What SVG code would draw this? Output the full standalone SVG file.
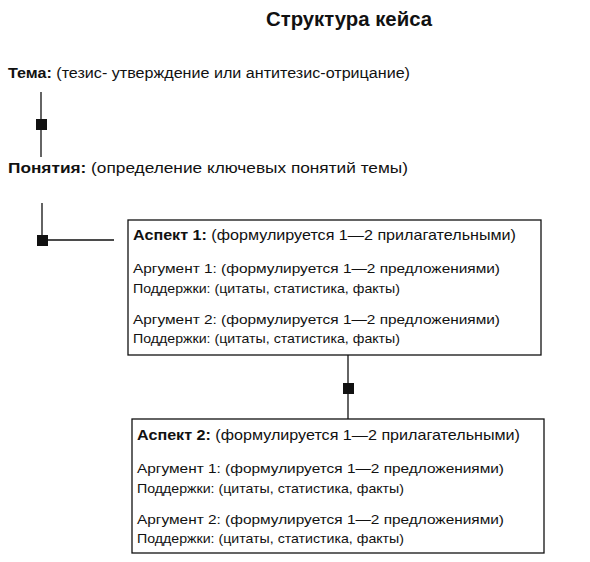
<svg xmlns="http://www.w3.org/2000/svg" width="590" height="562" viewBox="0 0 590 562">
<style>
text{font-family:"Liberation Sans","DejaVu Sans",sans-serif;fill:#111;}
.t{font-size:20px;font-weight:bold;}
.l{font-size:14px;}
.h{font-size:15px;}
.a{font-size:13.5px;}
.b{font-weight:bold;}
.box{fill:#fff;stroke:#111;stroke-width:1.3;}
.ln{stroke:#111;stroke-width:1.3;fill:none;}
.sq{fill:#111;}
</style>
<rect width="590" height="562" fill="#fff"/>
<g id="title"><text class="t" x="266" y="26" textLength="166" lengthAdjust="spacingAndGlyphs">Структура кейса</text></g>
<g id="tema"><text class="l" x="8" y="78" textLength="402" lengthAdjust="spacingAndGlyphs"><tspan class="b">Тема:</tspan> (тезис- утверждение или антитезис-отрицание)</text></g>
<g id="ponyatiya"><text class="l" x="8" y="173" textLength="400" lengthAdjust="spacingAndGlyphs"><tspan class="b">Понятия:</tspan> (определение ключевых понятий темы)</text></g>
<g id="aspect1">
<rect class="box" x="128" y="220" width="413" height="135"/>
<text class="h" x="133" y="240" textLength="383" lengthAdjust="spacingAndGlyphs"><tspan class="b">Аспект 1:</tspan> (формулируется 1—2 прилагательными)</text>
<text class="a" x="133" y="273" textLength="367" lengthAdjust="spacingAndGlyphs">Аргумент 1: (формулируется 1—2 предложениями)</text>
<text class="a" x="133" y="293" textLength="267" lengthAdjust="spacingAndGlyphs">Поддержки: (цитаты, статистика, факты)</text>
<text class="a" x="133" y="324" textLength="367" lengthAdjust="spacingAndGlyphs">Аргумент 2: (формулируется 1—2 предложениями)</text>
<text class="a" x="133" y="343" textLength="267" lengthAdjust="spacingAndGlyphs">Поддержки: (цитаты, статистика, факты)</text>
</g>
<g id="aspect2">
<rect class="box" x="132" y="419" width="412" height="134"/>
<text class="h" x="137" y="440" textLength="383" lengthAdjust="spacingAndGlyphs"><tspan class="b">Аспект 2:</tspan> (формулируется 1—2 прилагательными)</text>
<text class="a" x="137" y="473" textLength="367" lengthAdjust="spacingAndGlyphs">Аргумент 1: (формулируется 1—2 предложениями)</text>
<text class="a" x="137" y="493" textLength="267" lengthAdjust="spacingAndGlyphs">Поддержки: (цитаты, статистика, факты)</text>
<text class="a" x="137" y="524" textLength="367" lengthAdjust="spacingAndGlyphs">Аргумент 2: (формулируется 1—2 предложениями)</text>
<text class="a" x="137" y="543" textLength="267" lengthAdjust="spacingAndGlyphs">Поддержки: (цитаты, статистика, факты)</text>
</g>
<g id="connectors">
<line class="ln" x1="41" y1="92" x2="41" y2="157"/>
<rect class="sq" x="36" y="119" width="11" height="11"/>
<polyline class="ln" points="42,203 42,240 114,240"/>
<rect class="sq" x="37" y="235" width="11" height="11"/>
<line class="ln" x1="348" y1="355" x2="348" y2="419"/>
<rect class="sq" x="343" y="383" width="11" height="11"/>
</g>
</svg>
